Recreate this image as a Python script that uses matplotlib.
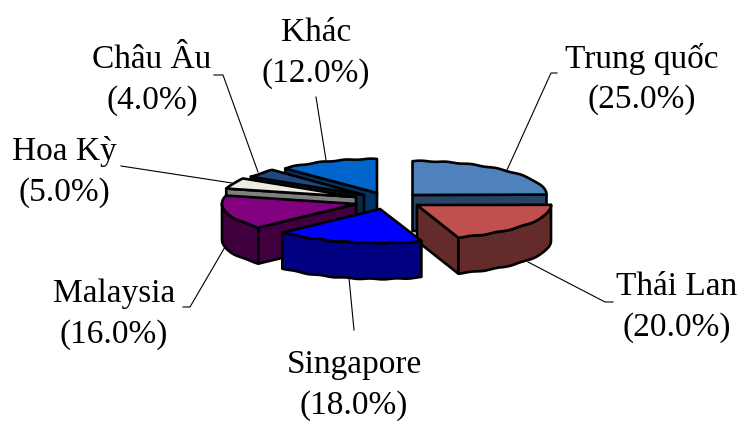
from matplotlib import pyplot as plt
from matplotlib.patches import Polygon
import numpy as np

labels = ['Trung quốc', 'Thái Lan', 'Singapore', 'Malaysia', 'Hoa Kỳ', 'Châu Âu', 'Khác']
shares = [25.0, 20.0, 18.0, 16.0, 5.0, 4.0, 12.0]

top_colors = ['#4F81BD', '#C0504D', '#0000FF', '#800080', '#EEECE1', '#1F497D', '#0066CC']
side_colors = ['#2A4468', '#632B2A', '#000080', '#400040', '#808080', '#102743', '#003366']

# layout, in pixels of the 739x421 picture
tips = [(412.5, 195), (417, 205), (380, 209), (356, 204), (356, 197), (364, 195), (377, 193)]
rx, ry, depth = 134, 34, 36
draw_order = [6, 5, 4, 3, 0, 1, 2]

label_pos = [(642, 79), (677, 307), (354, 385), (114, 314), (64, 172), (152, 80), (316, 53)]
leaders = [[(507, 170), (551, 73), (557, 73)],
           [(528, 262), (605, 302), (613, 302)],
           [(349, 278), (354, 330)],
           [(225, 247), (190, 307), (183, 307)],
           [(232, 183), (121, 166)],
           [(258, 172), (223, 75), (214, 75)],
           [(326, 160), (316, 97)]]

plt.rcParams['font.family'] = ['Liberation Serif', 'DejaVu Serif']

fig = plt.figure(figsize=(7.39, 4.21), dpi=100)
ax = fig.add_axes([0, 0, 1, 1])
ax.set_xlim(0, 739)
ax.set_ylim(421, 0)
ax.axis('off')

# slices go clockwise from 12 o'clock
edges = 90 - np.cumsum([0] + shares) * 3.6


def rim(x, y, a0, a1, dz=0):
    t = np.radians(np.linspace(a0, a1, 90))
    px = x + rx * np.cos(t)
    # the original rim is slightly scalloped
    return np.column_stack([px, y - ry * np.sin(t) + dz + 0.4 * np.sin(px / 4)])


def face(pts, color, z):
    ax.add_patch(Polygon(pts, closed=True, fc=color, ec='black', lw=1.9,
                         joinstyle='round', zorder=z))


z = 1
for i in draw_order:
    x, y = tips[i]
    a0, a1 = edges[i], edges[i + 1]   # a0 > a1

    # radial walls that look towards the viewer
    for a, out in ((a0, a0 + 90), (a1, a1 - 90)):
        if np.sin(np.radians(out)) < -0.01:
            p = rim(x, y, a, a)[0]
            face([(x, y), p, (p[0], p[1] + depth), (x, y + depth)], side_colors[i], z)
            z += 1

    # outer wall, only the front half of the ellipse
    lo, hi = a1, a0
    for k in (-360, 0):
        b0, b1 = max(lo, -180 + k), min(hi, 0 + k)
        if b1 > b0:
            arc = rim(x, y, b1, b0)
            face(np.vstack([arc, arc[::-1] + [0, depth]]), side_colors[i], z)
            z += 1

    # top
    face(np.vstack([[(x, y)], rim(x, y, a0, a1)]), top_colors[i], z)
    z += 1

for pts in leaders:
    px, py = zip(*pts)
    ax.plot(px, py, color='black', lw=0.8, zorder=z)

for name, val, (lx, ly) in zip(labels, shares, label_pos):
    ax.text(lx, ly, '%s\n(%.1f%%)' % (name, val), ha='center', va='center',
            fontsize=24, linespacing=1.43, color='black', zorder=z + 1)

fig.savefig('out.png', dpi=100)
